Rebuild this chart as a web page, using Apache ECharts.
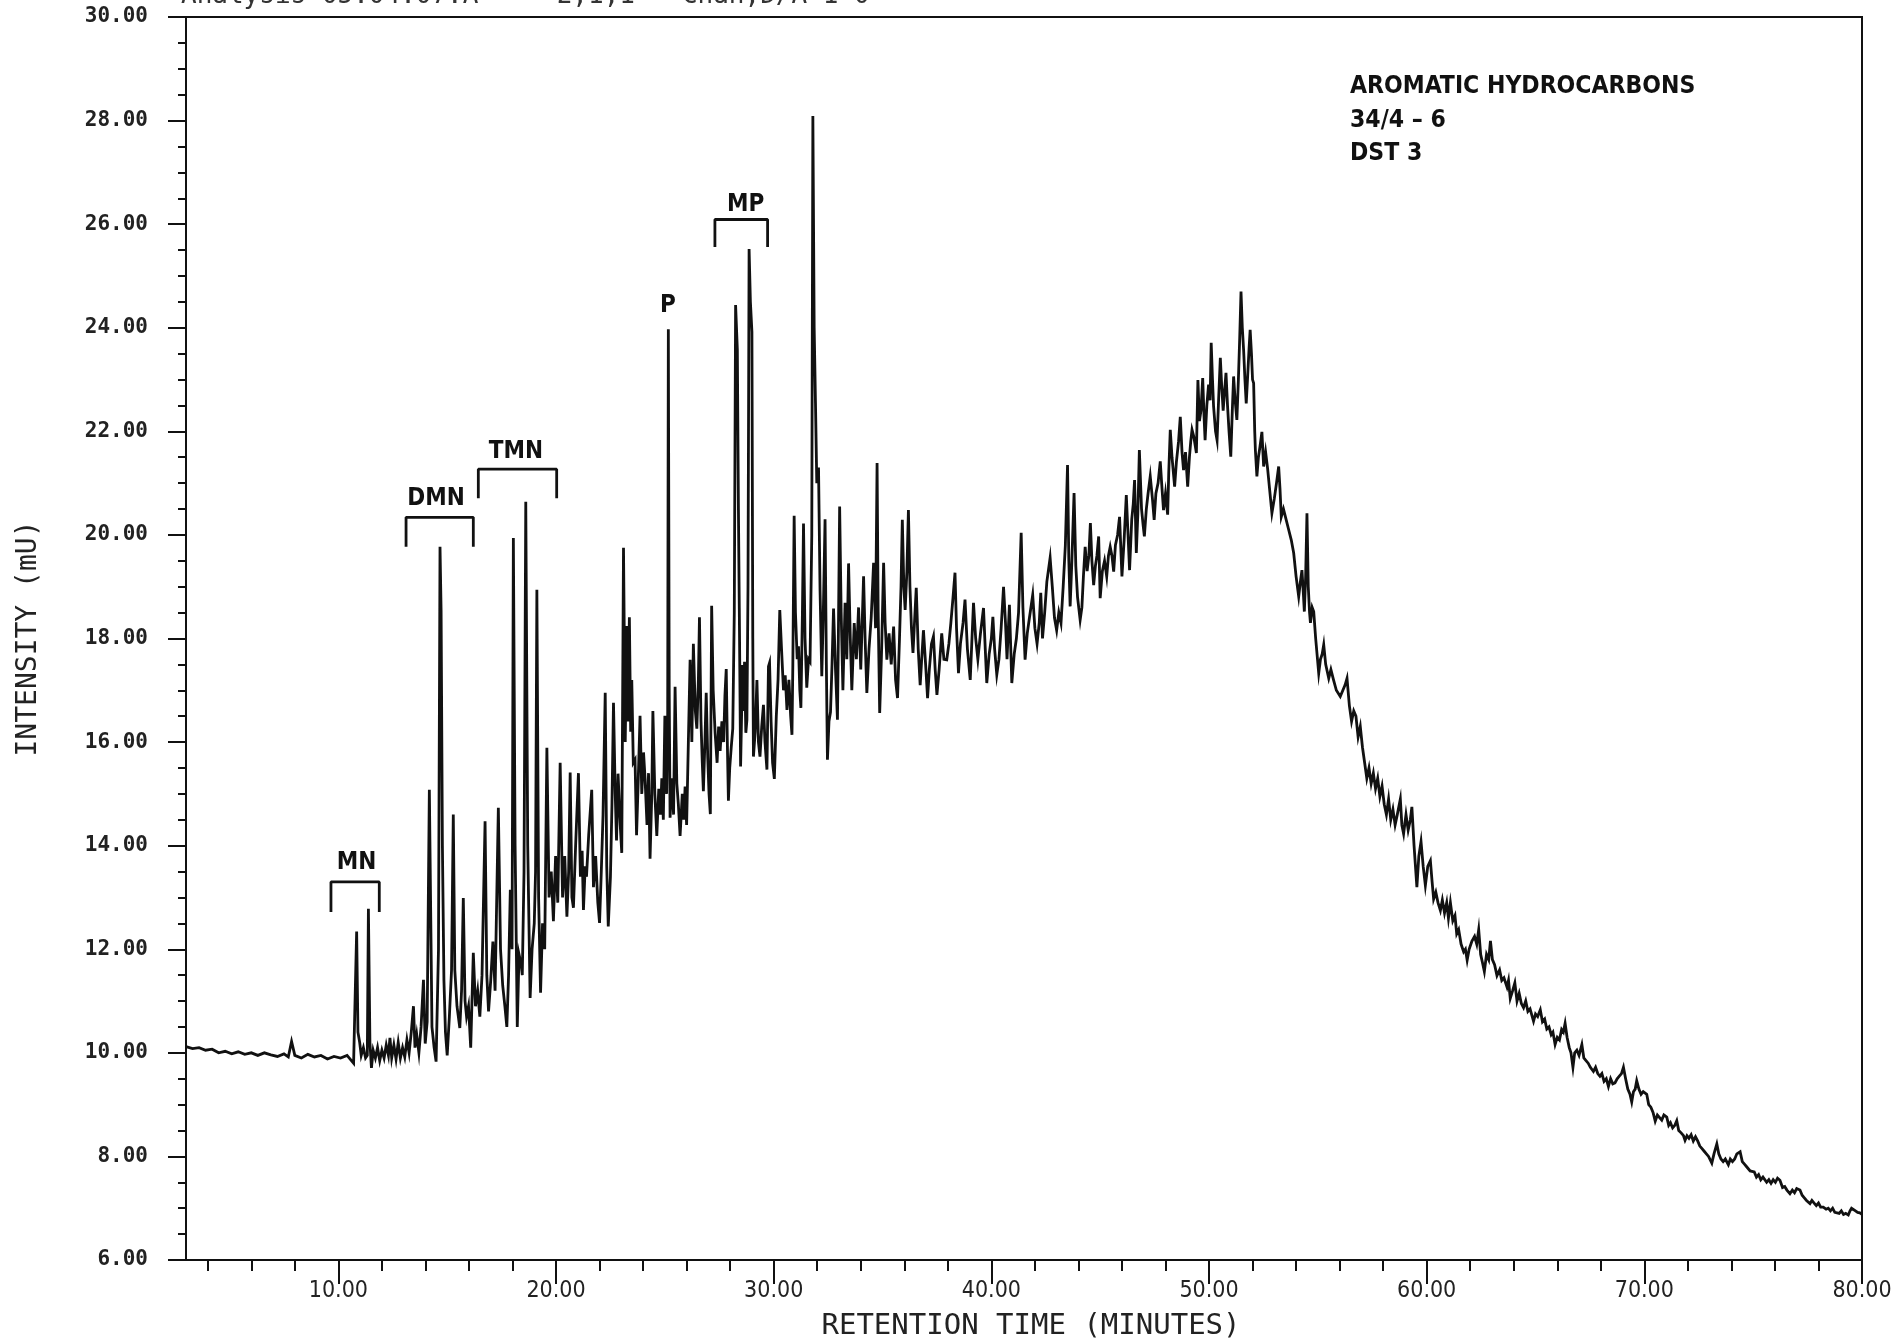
<!DOCTYPE html>
<html>
<head>
<meta charset="utf-8">
<title>Aromatic hydrocarbons chromatogram</title>
<script src="https://cdn.jsdelivr.net/npm/echarts@6/dist/echarts.min.js"></script>
<style>
  html, body { margin: 0; padding: 0; background: #fff; }
  #chart { width: 1896px; height: 1341px; }
</style>
</head>
<body>
<div id="chart"></div>
<script>
// axis ticks
var xMajorTicks = [10, 20, 30, 40, 50, 60, 70, 80];
var xMinorTicks = [4, 6, 8, 12, 14, 16, 18, 22, 24, 26, 28, 32, 34, 36, 38, 42, 44, 46, 48,
  52, 54, 56, 58, 62, 64, 66, 68, 72, 74, 76, 78];

// trace: [retention time (min), intensity (mU)]
var traceEarly = [
  [3.0,10.12],[3.3,10.08],[3.6,10.1],[3.9,10.05],[4.2,10.07],[4.5,10.0],[4.8,10.03],[5.1,9.98],
  [5.4,10.02],[5.7,9.97],[6.0,10.0],[6.3,9.95],[6.6,10.0],[6.9,9.96],[7.2,9.93],[7.5,9.98],
  [7.7,9.92],[7.85,10.22],[8.0,9.95],[8.3,9.9],[8.6,9.97],[8.9,9.92],[9.2,9.95],[9.5,9.88],
  [9.8,9.93],[10.1,9.9],[10.4,9.95],[10.6,9.85],[10.7,9.8],[10.78,9.82],[10.84,12.34],[10.9,10.4],
  [10.98,10.2],[11.05,9.95],[11.15,10.1],[11.25,9.9],[11.33,9.95],[11.38,12.78],[11.45,10.2],
  [11.52,9.71],[11.6,10.05],[11.7,9.9],[11.8,10.1],[11.9,9.85],[12.0,10.05],[12.1,9.9],[12.2,10.15],
  [12.3,9.95],[12.37,10.29],[12.45,9.9],[12.55,10.15],[12.65,9.88],[12.75,10.2],[12.85,9.9],
  [12.95,10.1],[13.05,9.92],[13.15,10.25],[13.25,10.0],[13.35,10.4],[13.45,10.9],[13.52,10.1],
  [13.6,10.35],[13.7,10.0],[13.8,10.5],[13.91,11.41],[13.99,10.18]
];
var traceNaphthalenes = [
  [14.08,10.6],[14.18,15.08],[14.3,10.5],[14.4,10.1],[14.49,9.83],[14.6,12.0],[14.67,19.77],
  [14.72,18.54],[14.78,14.0],[14.85,11.4],[14.92,10.4],[15.0,9.95],[15.1,10.7],[15.2,11.6],
  [15.28,14.6],[15.35,11.6],[15.45,10.9],[15.58,10.48],[15.66,11.2],[15.74,12.99],[15.82,11.0],
  [15.89,10.7],[15.98,10.9],[16.08,10.1],[16.2,11.93],[16.3,10.9],[16.4,11.2],[16.5,10.7],
  [16.6,11.5],[16.74,14.47],[16.82,11.5],[16.9,10.8],[17.0,11.4],[17.1,12.15],[17.2,11.2],
  [17.35,14.73],[17.45,12.0],[17.55,11.3],[17.65,10.9],[17.74,10.5],[17.82,11.5],[17.9,13.15],
  [17.98,12.0],[18.04,19.94],[18.12,14.0],[18.22,10.5],[18.3,11.9],[18.4,11.7],[18.45,11.5],
  [18.53,13.5],[18.61,20.64],[18.7,14.0],[18.81,11.06],[18.9,12.0],[19.0,12.5],[19.06,13.5],
  [19.12,18.94],[19.2,13.0],[19.29,11.16],[19.38,12.5],[19.48,12.0],[19.58,15.89],[19.68,13.0],
  [19.78,13.5],[19.88,12.54],[19.98,13.8],[20.08,12.9],[20.19,15.6],[20.3,13.0],[20.4,13.8],
  [20.5,12.63],[20.58,13.5],[20.65,15.41],[20.73,13.0],[20.8,12.8],[20.9,14.0],[21.03,15.4],
  [21.12,13.4],[21.2,13.9],[21.26,12.76],[21.34,13.6],[21.4,13.4],[21.5,14.2],[21.64,15.08],
  [21.72,13.2],[21.82,13.8],[21.92,12.9],[22.0,12.51]
];
var tracePhenanthrenes = [
  [22.08,13.5],[22.16,14.6],[22.26,16.95],[22.33,13.6],[22.4,12.44],[22.5,13.4],[22.57,14.8],
  [22.64,16.76],[22.72,15.0],[22.78,14.1],[22.85,15.39],[22.95,14.4],[23.02,13.86],[23.1,19.75],
  [23.18,16.0],[23.25,18.24],[23.3,16.4],[23.37,18.41],[23.43,16.2],[23.48,17.2],[23.55,15.6],
  [23.63,15.66],[23.7,14.2],[23.78,15.3],[23.86,16.51],[23.94,15.0],[24.02,15.8],[24.09,15.3],
  [24.18,14.4],[24.25,15.4],[24.32,13.75],[24.4,15.0],[24.45,16.6],[24.54,15.0],[24.63,14.19],
  [24.72,15.1],[24.8,14.6],[24.86,15.3],[24.93,14.5],[25.0,16.51],[25.08,15.0],[25.13,16.5],
  [25.16,23.97],[25.2,17.0],[25.24,14.54],[25.32,15.3],[25.4,14.6],[25.47,17.07],[25.55,15.2],
  [25.62,14.8],[25.7,14.19],[25.8,15.0],[25.87,14.5],[25.93,15.14],[26.0,14.4],[26.08,16.0],
  [26.16,17.59],[26.24,16.0],[26.31,17.9],[26.4,16.6],[26.47,16.26],[26.54,17.2],[26.59,18.41],
  [26.66,16.4],[26.72,15.6],[26.77,15.05],[26.84,16.0],[26.9,16.95],[26.97,15.7],[27.03,15.0],
  [27.09,14.61],[27.15,18.63],[27.22,17.0],[27.31,16.17],[27.4,15.6],[27.47,16.3],[27.54,15.83],
  [27.62,16.4],[27.7,16.0],[27.76,16.9],[27.82,17.41],[27.87,16.0],[27.92,14.87],[27.98,15.5],
  [28.05,15.9],[28.12,16.26],[28.19,18.5],[28.25,24.44],[28.33,23.58],[28.38,20.5],[28.42,18.58],
  [28.48,15.53],[28.54,15.56],[28.57,17.49],[28.62,16.6],[28.66,17.55],[28.72,16.18],[28.77,16.43],
  [28.82,19.0],[28.87,25.52],[28.93,24.5],[29.0,23.92],[29.04,18.0],[29.07,15.72],[29.15,16.2],
  [29.23,17.2],[29.3,16.0],[29.37,15.72],[29.45,16.3],[29.53,16.72],[29.6,16.0],[29.69,15.47],
  [29.76,17.46],[29.81,17.53],[29.88,16.4],[29.95,15.6],[30.03,15.29],[30.12,16.5],[30.2,17.2],
  [30.28,18.55],[30.36,17.8],[30.45,17.0],[30.53,17.29],[30.61,16.62],[30.7,17.2],[30.78,16.5],
  [30.84,16.14],[30.88,17.5],[30.94,20.37],[31.0,18.5],[31.08,17.6],[31.14,17.85],[31.2,17.0],
  [31.25,16.66],[31.32,18.5],[31.37,20.22],[31.44,18.0],[31.52,17.05],[31.6,17.6],[31.67,17.55],
  [31.75,20.0],[31.8,28.09],[31.86,24.0],[31.92,22.55],[31.98,21.0],[32.06,21.3],[32.13,18.93],
  [32.21,17.27],[32.28,18.5],[32.36,20.3],[32.42,17.5],[32.47,15.66],[32.54,16.4],[32.61,16.58],
  [32.68,17.5],[32.75,18.58],[32.84,17.4],[32.93,16.43],[32.98,18.4],[33.03,20.55],[33.1,18.5],
  [33.18,17.0],[33.28,18.69],[33.36,17.6],[33.44,19.45],[33.52,18.0],[33.59,17.0],[33.7,18.3],
  [33.8,17.6],[33.9,18.6],[34.0,17.4]
];
var traceHump = [
  [34.13,19.2],[34.2,18.0],[34.28,16.95],[34.38,17.8],[34.48,18.4],[34.59,19.46],[34.68,18.2],
  [34.75,21.39],[34.8,18.5],[34.87,16.56],[34.96,17.8],[35.05,19.46],[35.12,18.3],[35.2,17.59],
  [35.3,18.1],[35.4,17.5],[35.51,18.23],[35.6,17.2],[35.69,16.85],[35.78,18.0],[35.85,19.0],
  [35.91,20.29],[35.98,19.0],[36.04,18.55],[36.12,19.3],[36.19,20.48],[36.26,19.0],[36.33,18.2],
  [36.4,17.72],[36.48,18.4],[36.55,18.98],[36.64,17.8],[36.73,17.1],[36.8,17.6],[36.88,18.16],
  [36.98,17.5],[37.07,16.85],[37.15,17.4],[37.25,17.9],[37.34,18.04],[37.42,17.4],[37.5,16.91],
  [37.6,17.4],[37.72,18.1],[37.82,17.6],[37.95,17.59],[38.05,17.9],[38.14,18.3],[38.24,18.8],
  [38.33,19.27],[38.4,18.2],[38.49,17.33],[38.58,17.9],[38.7,18.3],[38.79,18.75],[38.9,17.8],
  [39.03,17.2],[39.1,17.9],[39.18,18.69],[39.28,18.0],[39.38,17.6],[39.5,18.1],[39.64,18.59],
  [39.72,17.8],[39.79,17.14],[39.9,17.7],[40.0,18.0],[40.07,18.42],[40.15,17.8],[40.25,17.3],
  [40.35,17.6],[40.45,18.2],[40.56,19.0],[40.65,18.3],[40.72,17.6],[40.83,18.65],[40.94,17.14],
  [41.05,17.7],[41.15,18.0],[41.25,18.5],[41.37,20.04],[41.45,18.6],[41.55,17.59],[41.65,18.1],
  [41.75,18.4],[41.9,18.84],[42.0,18.2],[42.1,17.9],[42.2,18.3],[42.27,18.88],[42.35,18.0],
  [42.45,18.5],[42.55,19.1],[42.7,19.56],[42.8,19.0],[42.9,18.4],[43.0,18.16],[43.1,18.5],
  [43.2,18.3],[43.3,19.0],[43.4,19.8],[43.5,21.35],[43.56,19.5],[43.62,18.62],[43.7,19.5],
  [43.8,20.81],[43.88,19.4],[43.96,18.8],[44.08,18.36],[44.16,18.6],[44.23,19.2],[44.31,19.77],
  [44.4,19.3],[44.48,19.6],[44.55,20.23],[44.62,19.5],[44.7,19.03],[44.78,19.4],[44.85,19.6],
  [44.93,19.97],[45.0,18.78],[45.1,19.3],[45.2,19.5],[45.3,19.2],[45.38,19.6],[45.46,19.77],
  [45.54,19.6],[45.62,19.29],[45.7,19.8],[45.8,20.0],[45.89,20.35],[46.0,19.2],[46.1,19.9],
  [46.2,20.77],[46.28,20.0],[46.35,19.32],[46.45,20.3],[46.52,20.6],[46.58,21.06],[46.66,19.65],
  [46.73,20.4],[46.8,21.64],[46.9,20.5],[46.97,20.2],[47.03,19.97],[47.12,20.5],[47.2,20.8],
  [47.3,21.13],[47.4,20.7],[47.48,20.29],[47.56,20.8],[47.66,21.0],[47.76,21.42],[47.84,20.9],
  [47.91,20.48],[48.0,20.8],[48.1,20.39],[48.15,21.2],[48.22,22.03],[48.3,21.5],[48.42,20.93],
  [48.5,21.4],[48.6,21.8],[48.68,22.28],[48.76,21.6],[48.83,21.25],[48.92,21.6],[49.02,20.93],
  [49.1,21.5],[49.16,21.8],[49.22,22.03],[49.3,21.9],[49.42,21.58],[49.49,22.99],[49.56,22.2],
  [49.63,22.4],[49.71,23.03],[49.77,22.3],[49.82,21.83],[49.9,22.5],[49.98,22.9],[50.05,22.6],
  [50.1,23.71],[50.16,23.0],[50.21,22.48],[50.3,22.0],[50.37,21.83],[50.44,22.6],[50.52,23.42],
  [50.58,22.9],[50.65,22.4],[50.72,22.8],[50.78,23.13],[50.85,22.5],[50.92,22.0],[51.0,21.51],
  [51.07,22.4],[51.13,23.06],[51.2,22.6],[51.28,22.22],[51.35,23.0],[51.41,23.8],[51.47,24.7],
  [51.53,24.0],[51.59,23.57],[51.65,23.0],[51.71,22.54],[51.78,23.1],[51.84,23.6],[51.89,23.96],
  [51.95,23.5],[52.0,23.0],[52.05,22.93],[52.1,22.0],[52.13,21.64],[52.2,21.13],[52.27,21.5],
  [52.34,21.7],[52.43,21.99],[52.51,21.32],[52.6,21.6],[52.69,21.29],[52.78,20.9],[52.89,20.42],
  [53.0,20.7],[53.1,21.0],[53.2,21.32],[53.26,20.9],[53.32,20.35],[53.42,20.5],[53.54,20.3],
  [53.66,20.1],[53.78,19.9],[53.89,19.65],[54.0,19.2],[54.12,18.81],[54.2,19.1],[54.27,19.32],
  [54.33,18.9],[54.38,18.52],[54.44,19.2],[54.5,20.42],[54.56,19.0],[54.62,18.5],[54.66,18.3],
  [54.74,18.6],[54.81,18.52],[54.9,18.0],[55.04,17.33],[55.12,17.6],[55.2,17.7],[55.27,17.88],
  [55.36,17.5],[55.5,17.23],[55.6,17.4],[55.72,17.2],[55.85,17.0],[56.03,16.88]
];
var traceTail = [
  [56.15,17.0],[56.25,17.1],[56.34,17.23],[56.45,16.7],[56.55,16.4],[56.65,16.6],[56.75,16.5],
  [56.85,16.1],[56.95,16.3],[57.05,15.9],[57.15,15.6],[57.25,15.3],[57.35,15.5],[57.45,15.2],
  [57.55,15.4],[57.65,15.1],[57.75,15.3],[57.85,14.95],[57.95,15.15],[58.05,14.8],[58.15,14.6],
  [58.25,14.9],[58.35,14.5],[58.45,14.7],[58.55,14.4],[58.65,14.6],[58.79,14.9],[58.86,14.4],
  [58.94,14.23],[59.05,14.6],[59.15,14.3],[59.25,14.5],[59.32,14.75],[59.42,14.0],[59.55,13.2],
  [59.64,13.8],[59.74,14.08],[59.84,13.6],[59.94,13.23],[60.05,13.6],[60.17,13.71],[60.25,13.3],
  [60.32,12.97],[60.42,13.1],[60.52,12.9],[60.63,12.75],[60.72,12.95],[60.82,12.7],[60.92,12.9],
  [61.0,12.6],[61.09,12.9],[61.2,12.55],[61.3,12.65],[61.38,12.3],[61.47,12.38],[61.58,12.1],
  [61.7,11.95],[61.78,12.0],[61.86,11.79],[61.95,12.0],[62.08,12.16],[62.2,12.25],[62.3,12.1],
  [62.39,12.38],[62.48,11.9],[62.56,11.75],[62.65,11.57],[62.75,11.9],[62.85,11.8],[62.93,12.16],
  [63.02,11.8],[63.12,11.7],[63.23,11.49],[63.35,11.6],[63.45,11.4],[63.55,11.45],[63.69,11.27],
  [63.76,11.4],[63.84,11.05],[63.95,11.2],[64.05,11.35],[64.15,11.0],[64.25,11.15],[64.35,10.95],
  [64.45,10.87],[64.55,11.0],[64.65,10.8],[64.75,10.85],[64.91,10.61],[65.0,10.75],[65.1,10.7],
  [65.22,10.83],[65.32,10.6],[65.42,10.65],[65.52,10.46],[65.62,10.5],[65.72,10.35],[65.8,10.4],
  [65.9,10.16],[66.0,10.3],[66.1,10.25],[66.2,10.45],[66.28,10.4],[66.36,10.57],[66.45,10.3],
  [66.55,10.1],[66.63,10.0],[66.72,9.72],[66.8,10.0],[66.9,10.05],[67.0,9.95],[67.13,10.16],
  [67.22,9.9],[67.32,9.85],[67.42,9.8],[67.52,9.72],[67.66,9.64],[67.76,9.72],[67.86,9.6],
  [67.96,9.55],[68.05,9.6],[68.15,9.45],[68.25,9.5],[68.35,9.35],[68.45,9.5],[68.55,9.4],
  [68.65,9.42],[68.75,9.5],[68.85,9.55],[68.95,9.6],[69.04,9.72],[69.14,9.5],[69.24,9.3],
  [69.34,9.2],[69.42,9.05],[69.5,9.25],[69.58,9.3],[69.65,9.46],[69.75,9.3],[69.85,9.2],
  [69.95,9.25],[70.11,9.2],[70.2,9.0],[70.3,8.95],[70.4,8.85],[70.5,8.68],[70.6,8.8],[70.7,8.75],
  [70.8,8.7],[70.9,8.8],[71.03,8.76],[71.12,8.6],[71.2,8.65],[71.3,8.55],[71.4,8.6],[71.49,8.69],
  [71.58,8.5],[71.7,8.45],[71.8,8.4],[71.87,8.31],[71.96,8.4],[72.05,8.35],[72.15,8.42],
  [72.25,8.3],[72.35,8.38],[72.45,8.3],[72.55,8.2],[72.65,8.15],[72.75,8.1],[72.85,8.05],
  [72.95,8.0],[73.1,7.87],[73.2,8.05],[73.33,8.24],[73.42,8.05],[73.52,7.95],[73.62,7.9],
  [73.72,7.95],[73.86,7.84],[73.95,7.95],[74.05,7.9],[74.15,7.95],[74.25,8.05],[74.4,8.09],
  [74.5,7.9],[74.6,7.85],[74.7,7.8],[74.86,7.72],[74.95,7.75],[75.05,7.7],[75.15,7.6],
  [75.25,7.65],[75.35,7.55],[75.45,7.6],[75.62,7.5],[75.72,7.55],[75.82,7.48],[75.92,7.55],
  [76.02,7.5],[76.12,7.58],[76.23,7.54],[76.35,7.4],[76.45,7.42],[76.55,7.35],[76.69,7.28],
  [76.8,7.35],[76.9,7.3],[77.0,7.38],[77.15,7.35],[77.25,7.25],[77.35,7.2],[77.45,7.15],
  [77.61,7.09],[77.7,7.15],[77.8,7.1],[77.9,7.05],[78.0,7.1],[78.1,7.02],[78.22,7.02],
  [78.35,6.98],[78.45,7.0],[78.55,6.95],[78.65,7.0],[78.75,6.92],[78.84,6.95],[78.95,6.9],
  [79.05,6.95],[79.15,6.88],[79.25,6.9],[79.37,6.87],[79.45,6.95],[79.52,7.0],[79.6,7.02],
  [79.7,6.95],[79.8,6.92],[79.9,6.91],[80.0,6.88]
];

// peak group annotations
var groupNames = ['MN', 'DMN', 'TMN', 'P', 'MP'];
var groupLabelX = [10.84, 14.49, 18.16, 25.14, 28.71];
var groupLabelY = [13.67, 20.69, 21.61, 24.43, 26.38];
var bracketStart = [9.66, 13.11, 16.43, null, 27.3];
var bracketEnd = [11.88, 16.2, 20.03, null, 29.72];
var bracketTop = [13.3, 20.34, 21.27, null, 26.09];
var bracketFoot = [12.72, 19.77, 20.71, null, 25.56];

var sampleLines = ['AROMATIC HYDROCARBONS', '34/4 \u2013 6', 'DST 3'];

var ink = '#111';
var boldFont = "'DejaVu Sans Condensed', 'Liberation Sans Narrow', 'DejaVu Sans', sans-serif";
var plotFont = "'DejaVu Sans Mono', monospace";

var trace = traceEarly.concat(traceNaphthalenes, tracePhenanthrenes, traceHump, traceTail);

var series = [{
  type: 'line',
  data: trace,
  showSymbol: false,
  symbol: 'none',
  sampling: null,
  lineStyle: { color: ink, width: 2.8, join: 'miter' },
  z: 3
}];

groupNames.forEach(function (name, i) {
  if (bracketStart[i] == null) return;
  series.push({
    type: 'line',
    data: [[bracketStart[i], bracketFoot[i]], [bracketStart[i], bracketTop[i]],
           [bracketEnd[i], bracketTop[i]], [bracketEnd[i], bracketFoot[i]]],
    symbol: 'none',
    lineStyle: { color: ink, width: 2.8 },
    z: 4
  });
});

series.push({
  type: 'scatter',
  data: groupNames.map(function (name, i) {
    return { name: name, value: [groupLabelX[i], groupLabelY[i]] };
  }),
  symbolSize: 0,
  itemStyle: { color: ink, opacity: 1 },
  label: {
    show: true,
    position: 'inside',
    formatter: '{b}',
    fontFamily: boldFont,
    fontWeight: 'bold',
    fontSize: 24,
    color: ink,
    opacity: 1,
    textBorderWidth: 0
  },
  z: 5
});

var myChart = echarts.init(document.getElementById('chart'));

option = {
  backgroundColor: '#fff',
  animation: false,
  grid: {
    left: 186, right: 34, top: 17, bottom: 81,
    outerBoundsMode: 'none',
    containLabel: false,
    show: true, borderColor: ink, borderWidth: 2
  },
  xAxis: [{
    type: 'value',
    min: 3, max: 80,
    name: 'RETENTION TIME (MINUTES)',
    nameLocation: 'middle',
    nameGap: 52,
    nameTextStyle: { fontFamily: plotFont, fontSize: 29, color: '#222', padding: [0, 0, 0, 14] },
    splitLine: { show: false },
    axisLine: { lineStyle: { color: ink, width: 2 } },
    axisTick: { customValues: xMajorTicks, length: 24, lineStyle: { color: ink, width: 2 } },
    axisLabel: {
      customValues: xMajorTicks,
      margin: 20,
      fontFamily: "'DejaVu Sans Condensed', 'DejaVu Sans', sans-serif",
      fontSize: 23,
      color: '#222',
      formatter: function (v) { return v.toFixed(2); }
    }
  }, {
    type: 'value',
    min: 3, max: 80,
    position: 'bottom',
    splitLine: { show: false },
    axisLine: { show: false },
    axisTick: { customValues: xMinorTicks, length: 11, lineStyle: { color: ink, width: 2 } },
    axisLabel: { show: false }
  }],
  yAxis: {
    type: 'value',
    min: 6, max: 30, interval: 2,
    name: 'INTENSITY (mU)',
    nameLocation: 'middle',
    nameGap: 143,
    nameTextStyle: { fontFamily: plotFont, fontSize: 28, color: '#222' },
    splitLine: { show: false },
    axisLine: { show: true, lineStyle: { color: ink, width: 2 } },
    axisTick: { show: true, length: 18, lineStyle: { color: ink, width: 2 } },
    minorTick: { show: true, splitNumber: 4, length: 8, lineStyle: { color: ink, width: 2 } },
    axisLabel: {
      margin: 38,
      fontFamily: plotFont,
      fontWeight: 'bold',
      fontSize: 21,
      color: '#222',
      formatter: function (v) { return v.toFixed(2); }
    }
  },
  graphic: [{
    type: 'text',
    left: 1350,
    top: 70,
    style: {
      text: sampleLines.join('\n'),
      font: 'bold 24.5px ' + boldFont,
      lineHeight: 33.5,
      fill: ink
    }
  }, {
    type: 'text',
    left: 181,
    top: -17,
    style: {
      text: 'Analysis 05:04:07:A     2,1,1   Chan,D/A 1 0',
      font: '26px ' + plotFont,
      fill: '#333'
    }
  }],
  series: series
};

myChart.setOption(option);

window.addEventListener('resize', function () {
  myChart.resize();
});
</script>
</body>
</html>
